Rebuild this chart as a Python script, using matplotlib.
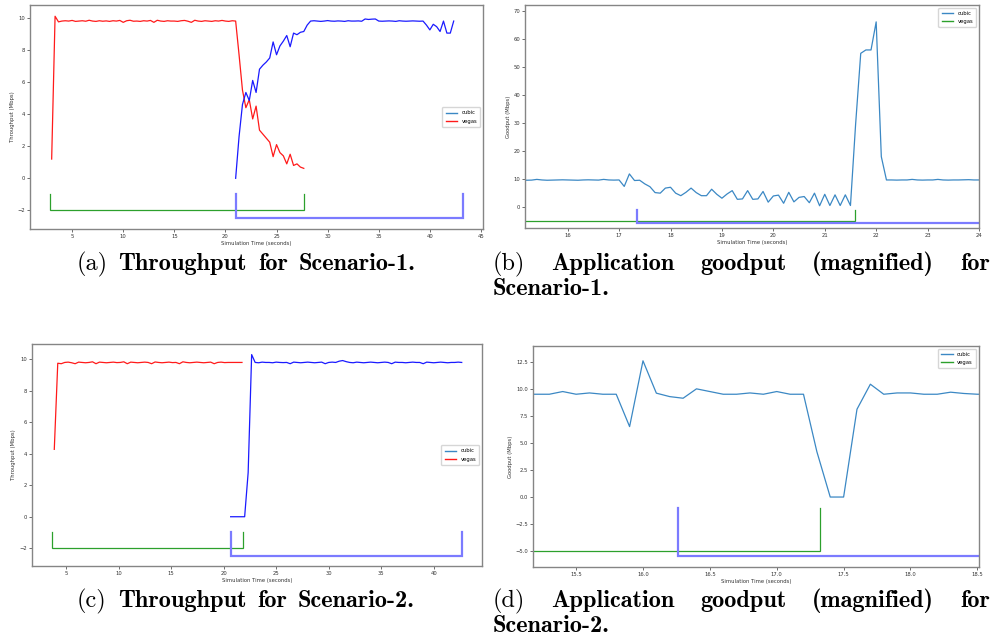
import numpy as np
import matplotlib
matplotlib.use("Agg")
import matplotlib.pyplot as plt
from matplotlib.lines import Line2D
from matplotlib.ticker import MultipleLocator

# throughput traces are sampled every 1/3 s, goodput every 0.1 s
DT_TPUT = 1 / 3
DT_GOOD = 0.1

# ---- Scenario-1 throughput (Mbps) ----
vegas_s1_t0 = 3.0
vegas_s1 = [1.2, 10.1, 9.75, 9.8,
            9.82, 9.8, 9.84, 9.78, 9.8, 9.82, 9.79, 9.85, 9.8, 9.78,
            9.82, 9.79, 9.81, 9.78, 9.82, 9.8, 9.84, 9.72, 9.82, 9.85,
            9.79, 9.8, 9.78, 9.82, 9.8, 9.84, 9.72, 9.85, 9.8, 9.78,
            9.82, 9.8, 9.8, 9.78, 9.82, 9.84, 9.79, 9.72, 9.85, 9.8,
            9.78, 9.82, 9.8, 9.78, 9.82, 9.8, 9.84, 9.8, 9.78, 9.82,
            9.8, 7.7, 5.5, 4.4, 4.9, 3.7, 4.5, 3.0, 2.75, 2.5,
            2.25, 1.35, 2.1, 1.6, 1.4, 0.9, 1.5, 0.8, 0.9, 0.7, 0.62]
cubic_s1_t0 = 21.0
cubic_s1 = [0.0, 2.6, 4.6, 5.35, 4.85, 6.1, 5.35, 6.8, 7.05, 7.25,
            7.5, 8.5, 7.7, 8.25, 8.55, 8.9, 8.2, 9.05, 8.95, 9.1,
            9.15, 9.55, 9.8,
            9.82, 9.8, 9.78, 9.8, 9.83, 9.8, 9.79, 9.81, 9.8, 9.78,
            9.82, 9.8, 9.8, 9.81, 9.79, 9.93, 9.9, 9.92, 9.93, 9.8,
            9.79, 9.8, 9.81, 9.8, 9.78, 9.82, 9.8, 9.79, 9.8, 9.81,
            9.8, 9.79, 9.8,
            9.55, 9.25, 9.6, 9.45, 9.15, 9.8, 9.05, 9.05, 9.8]

# ---- Scenario-1 application goodput (Mbps) ----
good_s1_t0 = 15.1
good_s1 = [9.7, 9.6, 9.65, 9.9, 9.7, 9.6, 9.65, 9.7, 9.75, 9.7,
           9.65, 9.6, 9.7, 9.75, 9.7, 9.65, 9.9, 9.7, 9.65, 9.7,
           7.4, 11.85, 9.5, 9.6, 8.3, 7.3, 5.2, 5.0, 6.8, 7.1,
           5.0, 4.1, 5.3, 6.8, 5.2, 4.1, 4.1, 6.4, 4.6, 3.2,
           4.7, 5.9, 2.8, 2.95, 5.9, 2.8, 2.95, 5.6, 1.8, 4.0,
           4.3, 1.4, 5.3, 1.9, 3.5, 3.8, 1.6, 5.0, 0.5, 4.6,
           0.6, 4.4, 0.6, 4.4, 0.6, 29.5, 54.8, 56.0, 56.0, 66.0,
           18.0, 9.7, 9.7, 9.65, 9.7, 9.7, 9.9, 9.7, 9.65, 9.7,
           9.7, 9.9, 9.7, 9.65, 9.7, 9.7, 9.75, 9.8, 9.7, 9.7, 9.7]

# ---- Scenario-2 throughput (Mbps) ----
vegas_s2_t0 = 3.88
vegas_s2_t1 = 21.75
vegas_s2 = [4.28, 9.75, 9.72, 9.8, 9.82, 9.78, 9.72, 9.82, 9.8, 9.78,
            9.8, 9.84, 9.72, 9.82, 9.8, 9.78, 9.8, 9.82, 9.79, 9.8,
            9.84, 9.72, 9.82, 9.8, 9.78, 9.8, 9.82, 9.8, 9.72, 9.83,
            9.8, 9.78, 9.8, 9.82, 9.79, 9.8, 9.72, 9.84, 9.8, 9.78,
            9.8, 9.82, 9.8, 9.78, 9.8, 9.82, 9.72, 9.8, 9.82, 9.79,
            9.8, 9.8, 9.8, 9.8, 9.8]
cubic_s2_t0 = 20.67
cubic_s2 = [0.0, 0.0, 0.0, 0.0, 0.0, 2.8, 10.3, 9.8,
            9.78, 9.82, 9.8, 9.8, 9.78, 9.82, 9.8, 9.79, 9.8, 9.72,
            9.82, 9.8, 9.78, 9.8, 9.82, 9.8, 9.78, 9.8, 9.82, 9.72,
            9.8, 9.82, 9.8, 9.88, 9.92, 9.85, 9.8, 9.78, 9.82, 9.8,
            9.78, 9.8, 9.82, 9.8, 9.78, 9.8, 9.82, 9.8, 9.72, 9.82,
            9.8, 9.8, 9.78, 9.8, 9.82, 9.8, 9.8, 9.72, 9.82, 9.8,
            9.78, 9.8, 9.82, 9.8, 9.78, 9.8, 9.8, 9.82, 9.8]

# ---- Scenario-2 application goodput (Mbps) ----
good_s2_t0 = 15.1
good_s2 = [9.53, 9.53, 9.53, 9.78, 9.53, 9.65, 9.53, 9.53, 6.53, 12.63,
           9.63, 9.31, 9.16, 10.03, 9.78, 9.53, 9.53, 9.65, 9.53, 9.78,
           9.53, 9.53, 4.21, 0.0, 0.0, 8.14, 10.46, 9.53, 9.65, 9.65,
           9.53, 9.53, 9.72, 9.6, 9.53, 9.53]

# flow lifetimes (start, end) and bracket levels
vegas_life = {"a": (2.85, 27.68), "b": (3.0, 21.58), "c": (3.64, 21.85), "d": (3.0, 17.32)}
cubic_life = {"a": (21.0, 43.2), "b": (17.34, 43.0), "c": (20.75, 42.7), "d": (16.26, 43.0)}
bracket_top = -1.0
vegas_level = {"a": -2.0, "b": -5.0, "c": -2.0, "d": -5.0}
cubic_level = {"a": -2.5, "b": -5.5, "c": -2.5, "d": -5.5}

RED = "#ff1a1a"
BLUE = "#1a1aff"
GOOD = "#3b88c4"
GREEN = "#2ca02c"
LBLUE = "#7b7bff"


def trace(t0, vals, dt):
    return t0 + dt * np.arange(len(vals)), np.asarray(vals)


def bracket(ax, start, end, level, color, lw, alpha=1.0):
    ax.plot([start, start, end, end], [bracket_top, level, level, bracket_top],
            color=color, lw=lw, alpha=alpha, solid_joinstyle="miter")


def style(ax, ylabel):
    for s in ax.spines.values():
        s.set_color("#858585")
        s.set_linewidth(1.0)
    ax.tick_params(labelsize=3.8, length=2, width=0.5, pad=1.5,
                   colors="#333333")
    ax.set_xlabel("Simulation Time (seconds)", fontsize=3.8, labelpad=1.5,
                  color="#333333")
    ax.set_ylabel(ylabel, fontsize=3.8, labelpad=2, color="#333333")


def legend(ax, second, loc):
    ax.legend([Line2D([], [], color=GOOD, lw=1), Line2D([], [], color=second, lw=1)],
              ["cubic", "vegas"], loc=loc, fontsize=3.8,
              handlelength=2.2, borderpad=0.6, labelspacing=0.6)


fig = plt.figure(figsize=(10, 6.44), dpi=100)

# (a) throughput, scenario 1
ax = fig.add_axes([0.030, 0.6444, 0.453, 0.3478])
ax.plot(*trace(vegas_s1_t0, vegas_s1, DT_TPUT), color=RED, lw=0.9)
ax.plot(*trace(cubic_s1_t0, cubic_s1, DT_TPUT), color=BLUE, lw=0.9)
bracket(ax, *vegas_life["a"], vegas_level["a"], GREEN, 0.9)
bracket(ax, *cubic_life["a"], cubic_level["a"], LBLUE, 1.6)
ax.set_xlim(0.88, 45.2)
ax.set_ylim(-3.16, 10.8)
ax.xaxis.set_major_locator(MultipleLocator(5))
ax.yaxis.set_major_locator(MultipleLocator(2))
style(ax, "Throughput (Mbps)")
legend(ax, RED, "center right")

# (b) goodput, scenario 1
ax = fig.add_axes([0.525, 0.646, 0.454, 0.3462])
ax.plot(*trace(good_s1_t0, good_s1, DT_GOOD), color=GOOD, lw=0.9)
bracket(ax, *vegas_life["b"], vegas_level["b"], GREEN, 0.9)
bracket(ax, *cubic_life["b"], cubic_level["b"], LBLUE, 1.6)
ax.set_xlim(15.17, 24.0)
ax.set_ylim(-7.4, 72)
ax.xaxis.set_major_locator(MultipleLocator(1))
ax.yaxis.set_major_locator(MultipleLocator(10))
style(ax, "Goodput (Mbps)")
legend(ax, GREEN, "upper right")

# (c) throughput, scenario 2
ax = fig.add_axes([0.0317, 0.1211, 0.4503, 0.3447])
ax.plot(*trace(vegas_s2_t0, vegas_s2, (vegas_s2_t1 - vegas_s2_t0) / (len(vegas_s2) - 1)),
        color=RED, lw=0.9)
ax.plot(*trace(cubic_s2_t0, cubic_s2, DT_TPUT), color=BLUE, lw=0.9)
bracket(ax, *vegas_life["c"], vegas_level["c"], GREEN, 0.9)
bracket(ax, *cubic_life["c"], cubic_level["c"], LBLUE, 1.6)
ax.set_xlim(1.73, 44.6)
ax.set_ylim(-3.13, 10.97)
ax.xaxis.set_major_locator(MultipleLocator(5))
ax.yaxis.set_major_locator(MultipleLocator(2))
style(ax, "Throughput (Mbps)")
legend(ax, RED, "center right")

# (d) goodput, scenario 2
ax = fig.add_axes([0.5333, 0.120, 0.4454, 0.3427])
ax.plot(*trace(good_s2_t0, good_s2, DT_GOOD), color=GOOD, lw=0.9)
bracket(ax, *vegas_life["d"], vegas_level["d"], GREEN, 0.9)
bracket(ax, *cubic_life["d"], cubic_level["d"], LBLUE, 1.6)
ax.set_xlim(15.18, 18.51)
ax.set_ylim(-6.46, 14.0)
ax.xaxis.set_major_locator(MultipleLocator(0.5))
ax.yaxis.set_major_locator(MultipleLocator(2.5))
style(ax, "Goodput (Mbps)")
legend(ax, GREEN, "upper right")

# ---- sub-figure captions ----
CAP_SIZE = 17.5
renderer = fig.canvas.get_renderer()
W, H = fig.bbox.width, fig.bbox.height
SPACE = CAP_SIZE * 100 / 72 * 0.45


def put(word, y, bold):
    t = fig.text(0, 1 - y / H, word, fontsize=CAP_SIZE, va="center",
                 ha="left", family="cmb10" if bold else "cmr10")
    return t, t.get_window_extent(renderer).width


def caption_line(tokens, y, left=None, right=None, center=None):
    """tokens: list of (text, bold). Justified when both left and right are given."""
    texts, widths = [], []
    for word, bold in tokens:
        t, w = put(word, y, bold)
        texts.append(t)
        widths.append(w)
    gap = SPACE
    if center is not None:
        x = center - (sum(widths) + gap * (len(widths) - 1)) / 2
    else:
        x = left
        if right is not None:
            gap = (right - left - sum(widths)) / (len(widths) - 1)
    for t, w in zip(texts, widths):
        t.set_x(x / W)
        x += w + gap


caption_line([("(a)", False), ("Throughput", True), ("for", True),
              ("Scenario-1.", True)], 264, center=246)
caption_line([("(b)", False), ("Application", True), ("goodput", True),
              ("(magnified)", True), ("for", True)], 264, left=493, right=990)
caption_line([("Scenario-1.", True)], 289, left=493)
caption_line([("(c)", False), ("Throughput", True), ("for", True),
              ("Scenario-2.", True)], 601, center=246)
caption_line([("(d)", False), ("Application", True), ("goodput", True),
              ("(magnified)", True), ("for", True)], 601, left=493, right=990)
caption_line([("Scenario-2.", True)], 626, left=493)

fig.savefig("out.png", dpi=100)
